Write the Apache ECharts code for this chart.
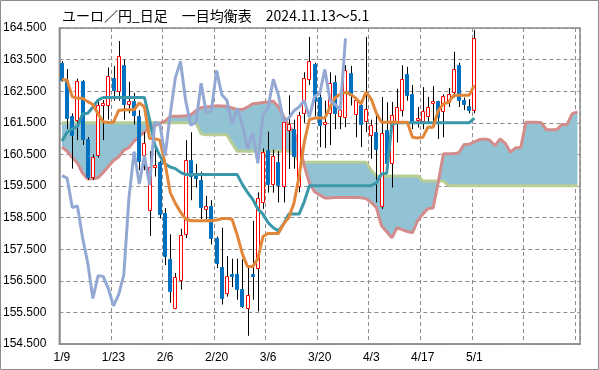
<!DOCTYPE html>
<html><head><meta charset="utf-8">
<script src="https://cdn.jsdelivr.net/npm/echarts@6/dist/echarts.min.js"></script>
<style>html,body{margin:0;padding:0;background:#fff}#c{width:599px;height:370px}</style>
</head><body><div id="c"></div>
<script>
const TITLE = 'ユーロ／円_日足　一目均衡表　2024.11.13～5.1';
const FIRST_DAY = [2025, 0, 9];
const N_CAT = 101;
const LAST_LABEL_INDEX = 80;
const Y_MIN = 154.5, Y_MAX = 164.5, Y_STEP = 1;
const CHIKOU_SHIFT = 25;

const opens = [163.40,162.85,161.73,161.6,162.81,161.0,159.8,160.48,162.08,162.07,
162.93,162.52,163.32,162.1,162.18,161.71,160.48,158.73,160.12,160.25,
158.66,157.18,155.64,156.54,157.97,160.32,159.9,159.7,158.78,158.87,
157.86,156.95,156.11,156.71,156.73,156.25,155.64,156.73,156.91,158.99,
160.65,159.56,160.27,159.49,161.26,161.3,159.51,161.8,162.88,163.35,
162.32,161.47,161.8,162.78,161.73,161.68,163.08,161.79,162.05,161.57,
161.1,161.22,158.87,161.26,160.23,161.52,161.89,163.06,162.4,161.6,
161.57,161.73,162.17,162.19,161.87,162.16,162.48,163.32,162.21,162.02,161.91];
const closes = [162.85,161.65,161.1,162.81,161.0,159.8,160.43,162.05,162.13,162.97,
162.55,163.61,162.1,162.2,161.76,160.3,160.86,160.1,160.18,158.6,
157.28,156.17,156.62,157.94,160.32,159.83,159.75,158.82,158.87,157.86,
157.07,155.94,156.66,156.64,156.25,155.71,156.06,156.69,159.13,160.59,
159.56,160.46,159.53,161.52,161.45,160.45,161.76,162.93,163.44,162.2,
161.42,161.52,162.75,161.8,161.9,163.16,162.39,162.21,161.47,161.95,
161.44,160.67,161.18,160.22,161.76,161.99,162.88,162.37,161.55,161.65,
161.88,162.0,162.2,161.68,162.34,162.42,163.19,162.21,162.08,161.91,164.17];
const highs = [163.45,163.2,161.8,162.9,162.85,161.05,160.5,162.2,162.22,163.25,
163.3,164.09,163.5,162.8,162.45,161.9,161.2,160.6,160.85,160.3,
158.8,157.97,156.75,158.15,160.95,161.2,160.2,159.95,159.19,159.05,
157.9,158.18,157.28,157.2,157.2,157.18,156.96,158.4,159.3,160.69,
161.22,160.65,160.6,161.63,162.37,161.6,161.85,163.1,164.22,163.4,
162.5,162.2,163.1,163.0,162.2,163.32,163.3,162.3,162.1,164.22,
161.6,161.89,162.32,162.15,162.16,162.58,163.32,163.27,162.7,162.0,
162.63,162.32,162.66,162.2,162.4,162.6,163.75,163.4,162.3,162.25,164.44];
const lows = [162.8,161.3,160.05,160.95,160.8,159.7,159.7,160.4,160.95,161.6,
162.2,162.2,161.6,161.8,161.45,160.0,160.0,157.92,159.8,158.47,
157.0,155.8,155.6,156.22,157.85,159.05,159.45,158.45,158.45,157.65,
156.9,155.75,156.0,156.3,155.9,155.64,154.76,155.9,155.53,158.78,
159.29,159.29,158.98,158.98,160.04,160.05,159.3,161.5,162.7,161.7,
160.73,160.7,160.8,161.3,161.3,161.36,162.05,161.04,160.73,161.2,
160.36,158.98,158.77,160.0,159.45,160.88,161.7,162.2,161.3,161.35,
161.3,161.5,161.4,160.99,161.04,162.0,162.3,162.0,161.9,161.8,161.8];

const tenkan = [162.88,162.85,162.32,162.28,162.28,162.17,162.08,161.78,161.53,161.51,
161.52,161.89,161.91,161.91,161.91,162.13,162.0,161.0,161.0,160.95,
160.22,159.3,158.95,158.68,158.45,158.4,158.4,158.4,158.4,158.4,
158.42,158.47,158.47,158.45,157.95,157.35,156.95,156.95,157.2,157.9,
158.0,158.0,158.0,158.3,158.5,158.95,159.8,160.88,161.6,161.65,
161.65,161.65,162.0,162.3,162.4,162.47,162.4,162.28,162.1,162.47,
162.25,161.8,161.52,161.52,161.52,161.52,161.52,161.52,161.04,161.02,
161.04,161.36,161.36,161.89,162.1,162.15,162.37,162.37,162.37,162.37,162.69];
const kijun = [160.92,161.2,161.3,161.38,161.78,161.8,162.0,162.22,162.3,162.3,
162.3,162.3,162.3,162.3,162.3,162.3,162.3,161.6,160.8,160.45,
160.2,160.1,160.05,159.93,159.86,159.86,159.86,159.86,159.86,159.86,
159.86,159.86,159.86,159.86,159.86,159.55,159.3,159.08,158.77,158.61,
158.34,158.18,158.08,158.3,158.61,158.61,158.61,159.0,159.51,159.51,
159.51,159.51,159.51,159.51,159.51,159.51,159.51,159.51,159.51,159.51,
159.51,159.6,159.88,159.9,161.45,161.5,161.5,161.5,161.5,161.5,
161.5,161.5,161.5,161.5,161.5,161.5,161.5,161.5,161.5,161.5,161.65];
const spanA = [160.73,160.6,160.4,160.23,159.9,159.72,159.73,159.76,159.93,160.12,
160.31,160.42,160.63,160.72,160.92,161.07,161.2,161.36,161.4,161.49,
161.55,161.7,161.71,161.71,161.72,161.75,161.88,161.98,162.0,162.02,
162.04,162.03,162.02,161.97,161.92,161.92,162.0,162.1,162.12,162.14,
162.16,162.18,162.0,161.7,161.4,161.2,160.85,160.14,159.6,159.32,
159.22,159.12,159.12,159.14,159.14,159.14,159.14,159.14,159.13,159.1,
158.98,158.82,158.24,158.05,157.86,158.18,158.12,158.06,158.02,158.4,
158.61,158.79,158.8,159.61,160.52,160.52,160.52,160.55,160.81,160.82,
160.9,160.97,160.99,160.95,160.78,160.99,160.85,160.57,160.71,160.71,
161.52,161.52,161.52,161.5,161.28,161.28,161.28,161.45,161.45,161.79,161.84];
const spanB = [161.5,161.5,161.5,161.5,161.5,161.5,161.5,161.5,161.5,161.5,
161.5,161.5,161.5,161.5,161.5,161.5,161.5,161.5,161.5,161.5,
161.5,161.5,161.5,161.5,161.5,161.5,161.5,161.15,161.12,161.12,
161.12,161.12,161.12,160.85,160.6,160.6,160.6,160.6,160.6,160.6,
160.6,160.6,160.6,160.6,160.6,160.5,160.28,160.25,160.25,160.25,
160.25,160.25,160.25,160.25,160.25,160.25,160.25,160.25,160.25,160.25,
160.0,159.82,159.82,159.82,159.82,159.82,159.82,159.82,159.82,159.82,
159.66,159.66,159.66,159.66,159.66,159.51,159.51,159.51,159.51,159.51,
159.51,159.51,159.51,159.51,159.51,159.51,159.51,159.51,159.51,159.51,
159.51,159.51,159.51,159.51,159.51,159.51,159.51,159.51,159.51,159.51,159.51];

const COL = {up:'#ff0000', down:'#0070c0', wick:'#000000', tenkan:'#e2863a', kijun:'#3b98aa',
  chikou:'#93a9d3', spanA:'#d38c8c', spanB:'#b7cd95', cloud:'#92c3d5', grid:'#8c8c8c'};

// weekday categories
const cats = [];
{
  const d = new Date(FIRST_DAY[0], FIRST_DAY[1], FIRST_DAY[2]);
  while (cats.length < N_CAT) {
    const wd = d.getDay();
    if (wd !== 0 && wd !== 6) cats.push((d.getMonth()+1) + '/' + d.getDate());
    d.setDate(d.getDate()+1);
  }
}
const sh = v => (v == null ? null : +(v - Y_MIN).toFixed(4));
const candleData = opens.map((o,i)=>[i, sh(o), sh(closes[i]), sh(lows[i]), sh(highs[i])]);
const chikou = cats.map((_,j)=> (j + CHIKOU_SHIFT < closes.length) ? sh(closes[j+CHIKOU_SHIFT]) : null);
const cloudBase = spanA.map((a,i)=> sh(Math.min(a, spanB[i])));
const cloudBand = spanA.map((a,i)=> +Math.abs(a - spanB[i]).toFixed(4));

function lineSeries(name, data, color, z){
  return {name, type:'line', data, symbol:'none', smooth:false, z,
    lineStyle:{color, width:3}, itemStyle:{color}, connectNulls:false, animation:false};
}

const chart = echarts.init(document.getElementById('c'), null, {renderer:'canvas'});
chart.setOption({
  animation:false,
  backgroundColor:'#ffffff',
  title:{text:TITLE, left:62, top:9, padding:0, textStyle:{fontFamily:"'Noto Sans CJK JP', sans-serif", fontSize:14, fontWeight:'normal', color:'#000'}},
  graphic:[{type:'rect', silent:true, shape:{x:0.5,y:0.5,width:598,height:369}, style:{fill:'transparent', stroke:COL.grid, lineWidth:1}}],
  grid:{left:59, right:19, top:28, bottom:26, show:true, borderColor:COL.grid, borderWidth:1.5, backgroundColor:'#fff'},
  xAxis:{type:'category', data:cats, boundaryGap:true,
    axisLine:{show:true, lineStyle:{color:COL.grid, width:1.5}},
    axisTick:{show:false},
    axisLabel:{interval:9, color:'#000', fontSize:12, fontFamily:'Liberation Sans', margin:8,
      formatter:(v, idx)=> idx <= LAST_LABEL_INDEX ? v : ''},
    splitLine:{show:true, interval:9, lineStyle:{color:COL.grid, width:1, type:[4,3]}}},
  yAxis:{type:'value', min:0, max:Y_MAX - Y_MIN, interval:Y_STEP,
    axisLine:{show:true, lineStyle:{color:COL.grid, width:1.5}},
    axisTick:{show:false},
    axisLabel:{color:'#000', fontSize:12, fontFamily:'Liberation Sans', margin:13,
      formatter:v=> (v + Y_MIN).toFixed(3)},
    splitLine:{show:true, lineStyle:{color:COL.grid, width:1, type:[4,3]}}},
  series:[
    {name:'cloudBase', type:'line', stack:'cloud', data:cloudBase, symbol:'none', lineStyle:{width:0, opacity:0}, z:1, silent:true},
    {name:'cloudBand', type:'line', stack:'cloud', data:cloudBand, symbol:'none', lineStyle:{width:0, opacity:0},
      areaStyle:{color:COL.cloud, opacity:1}, z:1, silent:true},
    lineSeries('spanB', spanB.map(sh), COL.spanB, 2),
    lineSeries('spanA', spanA.map(sh), COL.spanA, 2),
    {name:'candles', type:'custom', data:candleData, z:3,
      encode:{x:0, y:[1,2,3,4]},
      renderItem:function(params, api){
        const i = api.value(0);
        const o = api.value(1), c = api.value(2), l = api.value(3), h = api.value(4);
        const pO = api.coord([i,o]), pC = api.coord([i,c]), pL = api.coord([i,l]), pH = api.coord([i,h]);
        const cx = Math.round(pO[0]);
        const up = c >= o;
        let top = Math.round(Math.min(pO[1], pC[1])) + 0.5;
        let bot = Math.round(Math.max(pO[1], pC[1])) + 0.5;
        if (bot - top < 2) { bot = top + 2; }
        return {type:'group', children:[
          {type:'line', shape:{x1:cx+0.5, y1:pH[1], x2:cx+0.5, y2:pL[1]}, style:{stroke:COL.wick, lineWidth:1}},
          {type:'rect', shape:{x:cx-1.5, y:top, width:3, height:bot-top},
            style: up ? {fill:'#fff', stroke:COL.up, lineWidth:1} : {fill:COL.down, stroke:COL.down, lineWidth:1}}
        ]};
      }},
    lineSeries('kijun', kijun.map(sh), COL.kijun, 4),
    lineSeries('tenkan', tenkan.map(sh), COL.tenkan, 5),
    lineSeries('chikou', chikou, COL.chikou, 6)
  ]
});
</script></body></html>
